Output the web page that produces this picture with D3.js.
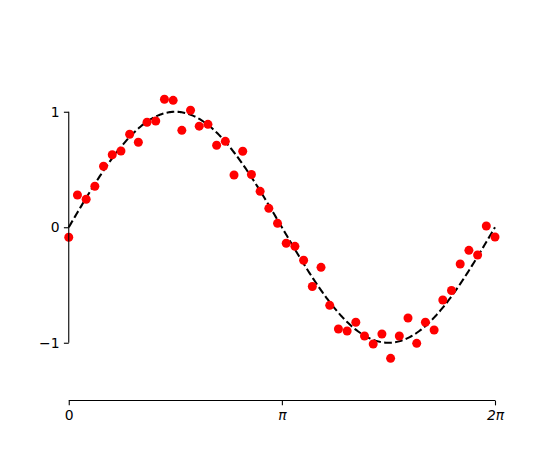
<!DOCTYPE html>
<html>
<head>
    <script src="https://cdnjs.cloudflare.com/ajax/libs/d3/7.8.5/d3.min.js"></script>
    <style>
        body { margin: 0; background: #fff; }
        svg { display: block; }
    </style>
</head>
<body>
    <svg id="chart" width="550" height="450"></svg>
    <script>
        // noisy samples (50 points, evenly spaced over 0..2pi)
        const noisyY = [
            -0.087, 0.279, 0.242, 0.355, 0.528, 0.628, 0.660, 0.805, 0.736, 0.909,
            0.920, 1.108, 1.099, 0.839, 1.013, 0.875, 0.891, 0.710, 0.744, 0.452,
            0.658, 0.457, 0.311, 0.164, 0.034, -0.139, -0.165, -0.286, -0.513, -0.347,
            -0.676, -0.881, -0.898, -0.823, -0.942, -1.011, -0.924, -1.135, -0.942, -0.786,
            -1.005, -0.823, -0.890, -0.630, -0.548, -0.318, -0.200, -0.240, 0.011, -0.084
        ];
        const xTicks = [0, Math.PI, 2 * Math.PI];
        const xTickLabels = ["0", "π", "2π"];
        const yTicks = [-1, 0, 1];

        const svg = d3.select("#chart");
        const plotLeft = 68.75, plotRight = 495, plotTop = 54, plotBottom = 400.5;

        const x = d3.scaleLinear().domain([0, 2 * Math.PI]).range([plotLeft, plotRight]);
        const y = d3.scaleLinear().domain([-1.5, 1.5]).range([plotBottom, plotTop]);

        const n = noisyY.length;
        const points = noisyY.map((v, i) => ({ x: i * 2 * Math.PI / (n - 1), y: v }));

        // true curve
        const curve = d3.range(0, 401).map(i => {
            const t = i * 2 * Math.PI / 400;
            return [t, Math.sin(t)];
        });
        svg.append("path")
            .attr("d", d3.line().x(d => x(d[0])).y(d => y(d[1]))(curve))
            .attr("fill", "none")
            .attr("stroke", "#000")
            .attr("stroke-width", 2.08)
            .attr("stroke-dasharray", "7.7,3.3");

        svg.selectAll(".dot")
            .data(points)
            .enter()
            .append("circle")
            .attr("class", "dot")
            .attr("cx", d => x(d.x))
            .attr("cy", d => y(d.y))
            .attr("r", 4.5)
            .attr("fill", "#ff0000");

        // axes
        const xAxis = d3.axisBottom(x)
            .tickValues(xTicks)
            .tickFormat((d, i) => xTickLabels[i])
            .tickSize(4.86)
            .tickPadding(4.4);
        const gx = svg.append("g")
            .attr("transform", `translate(0,${plotBottom})`)
            .call(xAxis)
            .attr("font-family", "DejaVu Sans")
            .attr("font-size", 13.9);
        gx.select(".domain").attr("d", `M${plotLeft},0H${plotRight}`).attr("stroke-width", 1.1);
        gx.selectAll(".tick line").attr("stroke-width", 1.1);
        gx.selectAll(".tick text").attr("font-style", (d, i) => i === 0 ? "normal" : "italic");

        const yAxis = d3.axisLeft(y)
            .tickValues(yTicks)
            .tickFormat(d => d < 0 ? "\u2212" + Math.abs(d) : String(d))
            .tickSize(4.86)
            .tickPadding(4.4);
        const gy = svg.append("g")
            .attr("transform", `translate(${plotLeft},0)`)
            .call(yAxis)
            .attr("font-family", "DejaVu Sans")
            .attr("font-size", 13.9);
        gy.select(".domain").attr("d", `M0,${y(1)}V${y(-1)}`).attr("stroke-width", 1.1);
        gy.selectAll(".tick line").attr("stroke-width", 1.1);
    </script>
</body>
</html>
